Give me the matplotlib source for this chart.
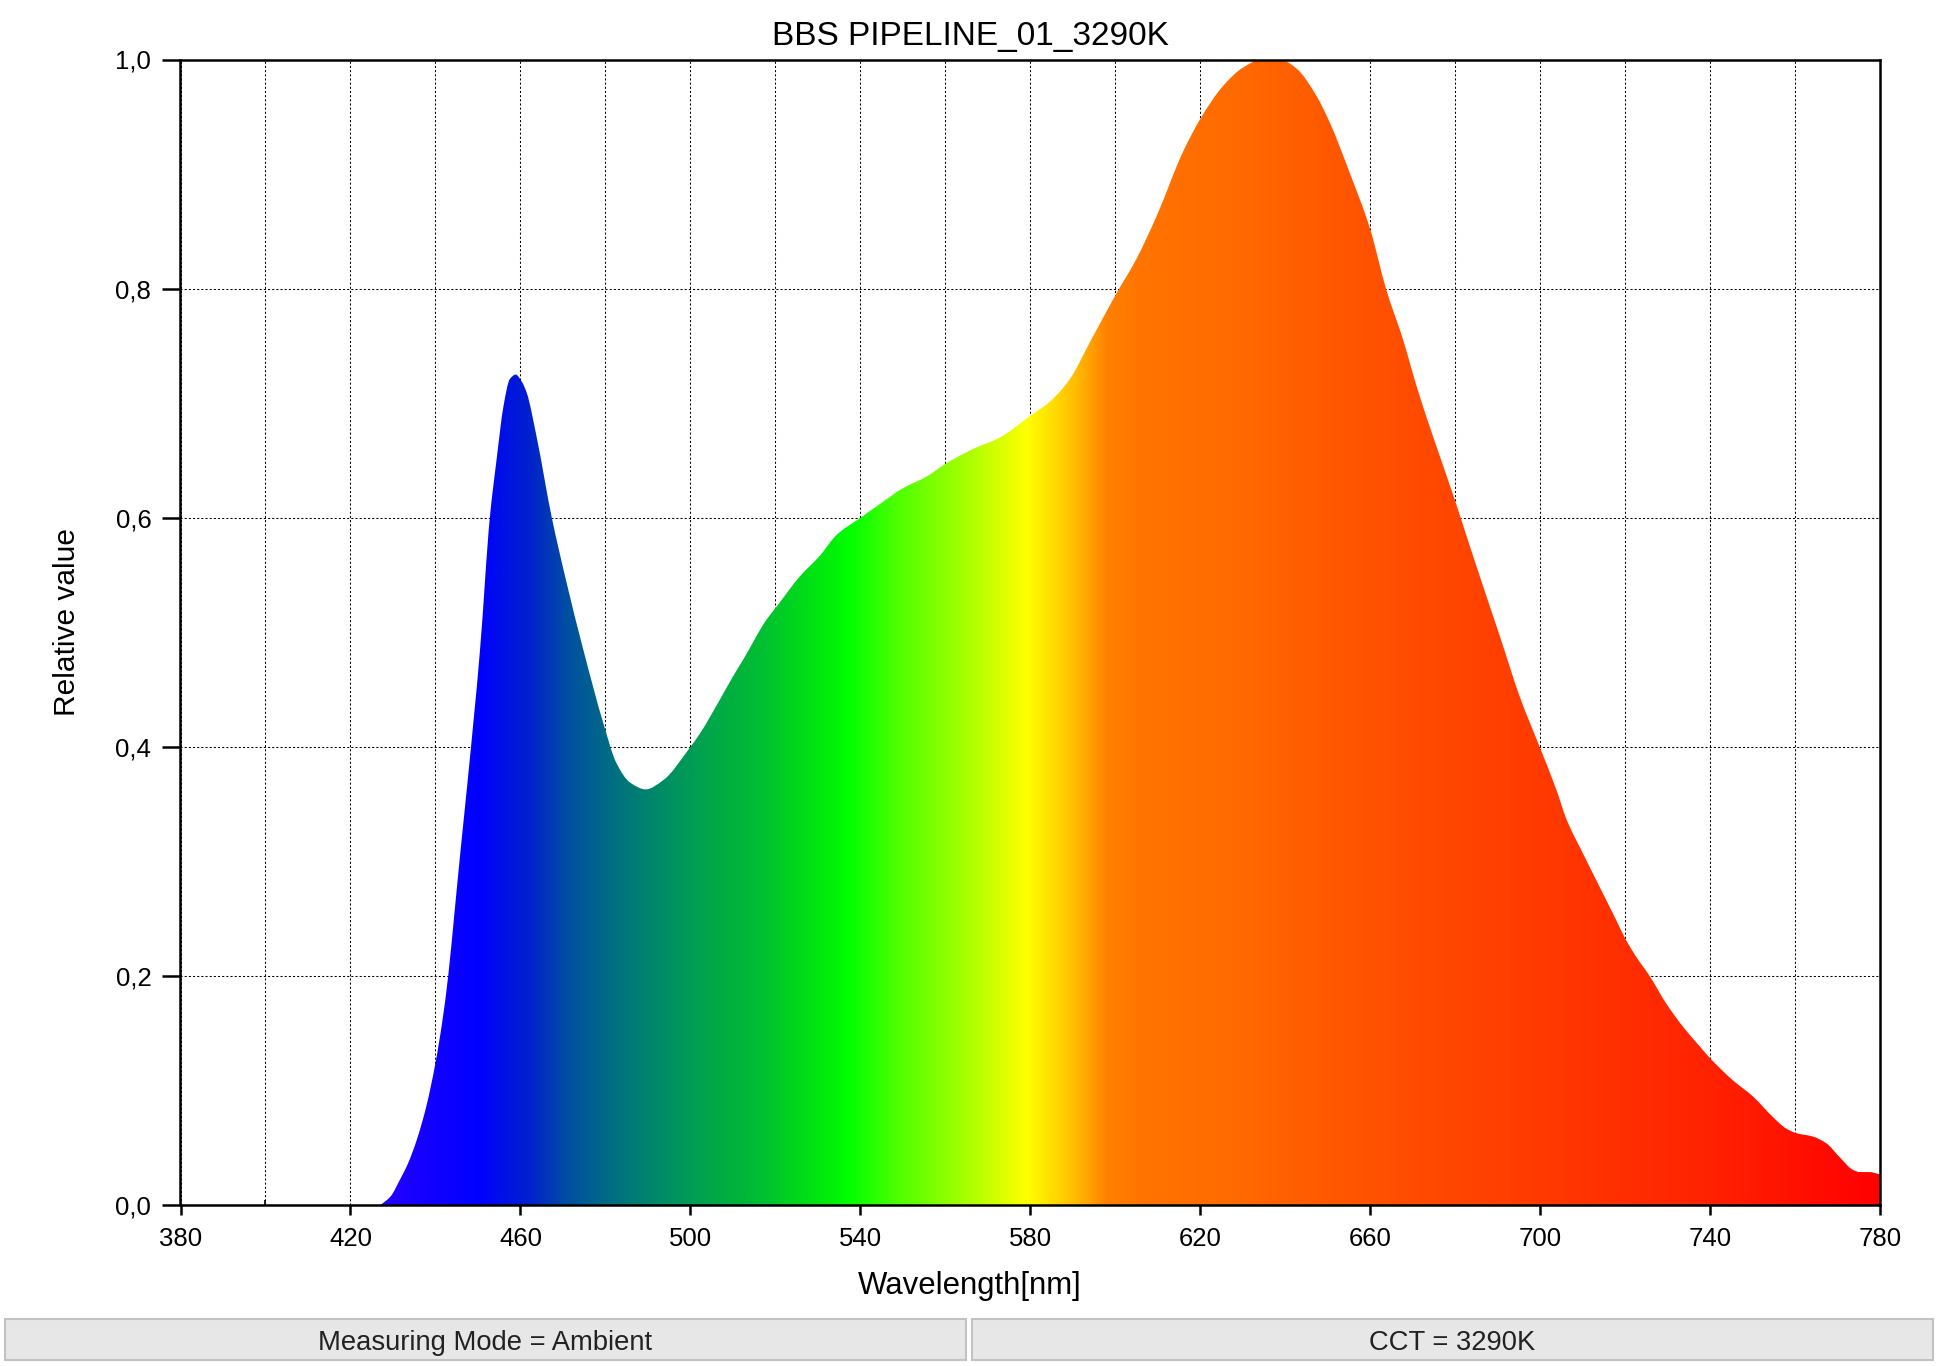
import numpy as np
import matplotlib
matplotlib.use("Agg")
import matplotlib.pyplot as plt
from matplotlib.colors import LinearSegmentedColormap
from matplotlib.patches import PathPatch, Rectangle
from matplotlib.path import Path
from matplotlib.ticker import MultipleLocator, FixedLocator

plt.rcParams['font.family'] = ['Liberation Sans', 'DejaVu Sans']

# ---- data ----
wavelength = [427.0, 429.5, 431.6, 433.6, 435.6, 437.9, 440.0, 441.6, 443.0, 444.5,
              446.0, 447.6, 450.5, 452.8, 454.4, 456.0, 457.5, 458.9, 460.3, 461.5,
              463.8, 467.4, 470.9, 474.8, 479.5, 482.6, 485.8, 489.5, 493.6, 500.0,
              502.3, 506.9, 510.1, 512.4, 517.9, 520.0, 525.8, 530.5, 534.4, 540.0,
              544.6, 550.1, 555.6, 560.0, 566.5, 572.8, 580.0, 584.8, 589.3, 594.0,
              600.0, 605.0, 609.7, 615.9, 620.0, 625.4, 630.1, 634.4, 639.5, 642.7,
              647.4, 650.5, 655.2, 660.0, 663.8, 667.7, 671.0, 674.8, 679.9, 681.3,
              685.8, 690.5, 695.2, 699.9, 703.8, 706.2, 710.1, 714.0, 717.9, 720.0,
              722.6, 725.8, 729.7, 733.6, 737.5, 740.1, 745.4, 750.1, 754.8, 757.9,
              760.3, 764.2, 767.4, 770.5, 773.6, 775.2, 777.5, 780.0]
relative = [0.000, 0.008, 0.022, 0.037, 0.057, 0.087, 0.124, 0.160, 0.200, 0.256,
            0.313, 0.371, 0.485, 0.600, 0.651, 0.697, 0.721, 0.725, 0.719, 0.709,
            0.671, 0.600, 0.543, 0.485, 0.421, 0.386, 0.369, 0.363, 0.371, 0.400,
            0.412, 0.441, 0.462, 0.476, 0.511, 0.521, 0.549, 0.567, 0.585, 0.600,
            0.612, 0.626, 0.636, 0.647, 0.660, 0.670, 0.689, 0.702, 0.721, 0.753,
            0.794, 0.826, 0.863, 0.919, 0.948, 0.977, 0.993, 1.000, 0.999, 0.992,
            0.968, 0.945, 0.901, 0.852, 0.799, 0.756, 0.714, 0.671, 0.616, 0.600,
            0.549, 0.497, 0.444, 0.400, 0.363, 0.337, 0.307, 0.278, 0.249, 0.233,
            0.217, 0.200, 0.176, 0.156, 0.139, 0.128, 0.109, 0.095, 0.077, 0.067,
            0.063, 0.060, 0.054, 0.042, 0.031, 0.029, 0.029, 0.027]

# spectral colour stops (wavelength, colour)
color_wl = [380, 428, 450, 462, 471, 482, 493, 505, 517, 533, 537, 549, 565,
            579, 588, 593, 598, 606, 628, 651, 672, 700, 740, 780]
color_hex = ['#3000ff', '#2200ff', '#0000ff', '#0022cc', '#0050a0', '#007080',
             '#008c66', '#00a848', '#00c030', '#00f008', '#00ff00', '#50ff00',
             '#a8ff00', '#ffff00', '#ffcc00', '#ffaa00', '#ff8000', '#ff7400',
             '#ff6a00', '#ff5800', '#ff4a00', '#ff3a00', '#ff2200', '#ff0000']

title = "BBS PIPELINE_01_3290K"
xlabel = "Wavelength[nm]"
ylabel = "Relative value"
xticks = [380, 420, 460, 500, 540, 580, 620, 660, 700, 740, 780]
yticks = [0.0, 0.2, 0.4, 0.6, 0.8, 1.0]
ytick_labels = ["0,0", "0,2", "0,4", "0,6", "0,8", "1,0"]
info_left = "Measuring Mode = Ambient"
info_right = "CCT = 3290K"


def smooth_area_path(xs, ys):
    """Closed area path whose top edge is drawn as cubic Bezier segments
    (monotone Hermite tangents) through the given points."""
    x = np.asarray(xs, float)
    y = np.asarray(ys, float)
    h = np.diff(x)
    d = np.diff(y) / h
    m = np.zeros_like(y)
    m[0], m[-1] = d[0], d[-1]
    for i in range(1, len(x) - 1):
        if d[i - 1] * d[i] > 0:
            w1 = 2 * h[i] + h[i - 1]
            w2 = h[i] + 2 * h[i - 1]
            m[i] = (w1 + w2) / (w1 / d[i - 1] + w2 / d[i])
        else:
            m[i] = 0.0
    verts = [(x[0], y[0])]
    codes = [Path.MOVETO]
    for i in range(len(x) - 1):
        verts += [(x[i] + h[i] / 3, y[i] + m[i] * h[i] / 3),
                  (x[i + 1] - h[i] / 3, y[i + 1] - m[i + 1] * h[i] / 3),
                  (x[i + 1], y[i + 1])]
        codes += [Path.CURVE4] * 3
    verts += [(x[-1], 0.0), (x[0], 0.0), (x[0], y[0])]
    codes += [Path.LINETO, Path.LINETO, Path.CLOSEPOLY]
    return Path(verts, codes)


# ---- figure ----
W, H = 1940, 1366
fig = plt.figure(figsize=(W / 100, H / 100), dpi=100)
fig.patch.set_facecolor('white')

x0, x1 = 180.5, 1880.0
y_top, y_bot = 59.5, 1205.3
ax = fig.add_axes([x0 / W, 1 - y_bot / H, (x1 - x0) / W, (y_bot - y_top) / H])
ax.set_xlim(380, 780)
ax.set_ylim(0, 1.0)

# gradient fill clipped to the spectrum
pos = [(w - 380) / 400 for w in color_wl]
cmap = LinearSegmentedColormap.from_list('spec', list(zip(pos, color_hex)), N=1024)
grad = np.linspace(380, 780, 2000).reshape(1, -1)
im = ax.imshow(grad, extent=[380, 780, 0, 1], aspect='auto', cmap=cmap,
               vmin=380, vmax=780, origin='lower', interpolation='bilinear', zorder=2)
patch = PathPatch(smooth_area_path(wavelength, relative), facecolor='none',
                  edgecolor='none', transform=ax.transData)
ax.add_patch(patch)
im.set_clip_path(patch)

# grid
ax.set_axisbelow(True)
ax.xaxis.set_major_locator(FixedLocator(xticks))
ax.xaxis.set_minor_locator(MultipleLocator(20))
ax.yaxis.set_major_locator(FixedLocator(yticks))
ax.set_xticklabels([str(t) for t in xticks])
ax.set_yticklabels(ytick_labels)
ax.grid(True, which='both', axis='x', color='black', lw=0.75, ls=(0, (2, 2)), zorder=0)
ax.grid(True, which='major', axis='y', color='black', lw=0.75, ls=(0, (2, 2)), zorder=0)

for s in ax.spines.values():
    s.set_linewidth(1.8)
    s.set_color('black')
    s.set_zorder(5)

ax.tick_params(axis='x', which='major', direction='out', length=7.5, width=1.8,
               labelsize=18.5, pad=8, top=False)
ax.tick_params(axis='x', which='minor', direction='in', length=3.5, width=1.2, top=False)
ax.tick_params(axis='y', which='major', direction='out', length=13, width=1.8,
               labelsize=18.5, pad=8, right=False)

# texts
fig.text(0.5, 1 - 45 / H, title, ha='center', va='baseline', fontsize=24)
fig.text(0.5, 1 - 1294 / H, xlabel, ha='center', va='baseline', fontsize=22.4)
fig.text(75 / W, 1 - 622 / H, ylabel, ha='center', va='baseline', fontsize=21.5,
         rotation=90, rotation_mode='anchor')

# info boxes
for (bx0, bx1), txt in [((5, 966), info_left), ((972, 1933), info_right)]:
    r = Rectangle((bx0 / W, 1 - 1360 / H), (bx1 - bx0) / W, 41 / H,
                  transform=fig.transFigure, facecolor='#e7e7e7',
                  edgecolor='#c2c2c2', lw=1.5)
    fig.add_artist(r)
    fig.text((bx0 + bx1) / 2 / W, 1 - 1343.5 / H, txt, ha='center', va='center',
             fontsize=19.7, color='#222222')

fig.savefig('out.png', dpi=100, facecolor='white')
